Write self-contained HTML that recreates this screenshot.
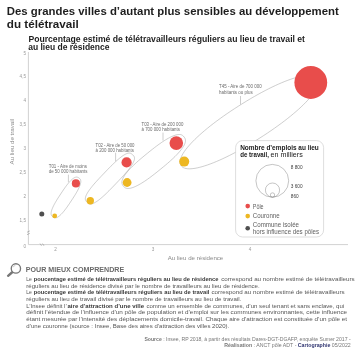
<!DOCTYPE html>
<html><head><meta charset="utf-8">
<style>
html,body{margin:0;padding:0;background:#fff;width:360px;height:354px;overflow:hidden}
svg{display:block;will-change:transform}
text{font-family:"Liberation Sans",sans-serif}
.t{font-weight:bold;fill:#1e1e1e;font-size:10px}
.st{font-weight:bold;fill:#1e1e1e;font-size:8.6px}
.tk{fill:#9a9a9a;font-size:4.6px}
.lb{fill:#6a6a6a;font-size:5.7px}
.ax{fill:#8a8a8a;font-size:5.2px}
.p{fill:#555;font-size:5.7px}
.p b{font-weight:bold}
.lg{fill:#333;font-size:5.8px}
.src{fill:#777;font-size:4.7px}
</style></head>
<body>
<svg width="360" height="354" viewBox="0 0 360 354" xmlns="http://www.w3.org/2000/svg">
<!-- Title -->
<text class="t" x="6.8" y="14.9" textLength="332" lengthAdjust="spacingAndGlyphs">Des grandes villes d’autant plus sensibles au développement</text>
<text class="t" x="6.8" y="28" textLength="72" lengthAdjust="spacingAndGlyphs">du télétravail</text>
<text class="st" x="28.4" y="41.9" textLength="276.6" lengthAdjust="spacingAndGlyphs">Pourcentage estimé de télétravailleurs réguliers au lieu de travail et</text>
<text class="st" x="28.2" y="49.7" textLength="81.3" lengthAdjust="spacingAndGlyphs">au lieu de résidence</text>

<!-- axes -->
<g stroke="#d2d2d2" stroke-width="1" fill="none">
<path d="M28.4 52V244.6H348"/>
</g>
<g stroke="#9a9a9a" stroke-width="0.7" fill="none" stroke-linecap="round">
<path d="M27.4 232.1 L29.4 231.1 M27.4 234.5 L29.4 233.5"/>
<path d="M40.3 243.9 L41.3 245.4 M42.7 243.9 L43.7 245.4"/>
</g>
<g class="tk" text-anchor="end">
<text x="26" y="54.7">5</text>
<text x="26" y="78.2">4,5</text>
<text x="26" y="101.7">4</text>
<text x="26" y="125.6">3,5</text>
<text x="26" y="149.6">3</text>
<text x="26" y="173.8">2,5</text>
<text x="26" y="197.7">2</text>
<text x="26" y="222.2">1,5</text>
<text x="26" y="248">0</text>
</g>
<g class="tk" text-anchor="middle">
<text x="55.5" y="251">2</text>
<text x="153" y="251">3</text>
<text x="250" y="251">4</text>
</g>
<text class="ax" x="195.5" y="259.6" text-anchor="middle" style="font-size:5.7px" textLength="55.6" lengthAdjust="spacingAndGlyphs">Au lieu de résidence</text>
<text class="ax" transform="translate(14.1 141.8) rotate(-90)" text-anchor="middle" style="font-size:5.5px" textLength="45.6" lengthAdjust="spacingAndGlyphs">Au lieu de travail</text>

<!-- ellipses -->
<g stroke="#9c9c9c" stroke-width="0.5" fill="none">
<path d="M78.83 177.91 79.46 178.36 79.83 178.68 80.12 179.01 80.34 179.35 80.52 179.71 80.65 180.10 80.74 180.52 80.79 180.96 80.80 181.43 80.78 181.94 80.72 182.47 80.62 183.03 80.49 183.63 80.32 184.25 80.11 184.91 79.87 185.59 79.60 186.31 79.28 187.07 78.93 187.85 78.55 188.67 78.12 189.53 77.66 190.43 77.15 191.37 76.59 192.35 75.99 193.39 75.32 194.50 74.59 195.70 73.76 197.01 72.77 198.54 71.21 200.92 69.64 203.29 68.62 204.80 67.74 206.08 66.93 207.23 66.18 208.27 65.46 209.24 64.77 210.14 64.11 210.98 63.47 211.76 62.84 212.49 62.24 213.17 61.66 213.80 61.09 214.38 60.54 214.92 60.00 215.41 59.48 215.86 58.97 216.26 58.48 216.61 58.00 216.93 57.53 217.19 57.08 217.41 56.64 217.59 56.21 217.72 55.80 217.80 55.39 217.83 54.98 217.81 54.58 217.74 54.17 217.60 53.72 217.39 53.07 216.99 52.44 216.54 52.07 216.22 51.78 215.89 51.56 215.55 51.38 215.19 51.25 214.80 51.16 214.38 51.11 213.94 51.10 213.47 51.12 212.96 51.18 212.43 51.28 211.87 51.41 211.27 51.58 210.65 51.79 209.99 52.03 209.31 52.30 208.59 52.62 207.83 52.97 207.05 53.35 206.23 53.78 205.37 54.24 204.47 54.75 203.53 55.31 202.55 55.91 201.51 56.58 200.40 57.31 199.20 58.14 197.89 59.13 196.36 60.69 193.98 62.26 191.61 63.28 190.10 64.16 188.82 64.97 187.67 65.72 186.63 66.44 185.66 67.13 184.76 67.79 183.92 68.43 183.14 69.06 182.41 69.66 181.73 70.24 181.10 70.81 180.52 71.36 179.98 71.90 179.49 72.42 179.04 72.93 178.64 73.42 178.29 73.90 177.97 74.37 177.71 74.82 177.49 75.26 177.31 75.69 177.18 76.10 177.10 76.51 177.07 76.92 177.09 77.32 177.16 77.73 177.30 78.18 177.51Z"/>
<path d="M132.65 154.78 133.42 155.56 133.83 156.07 134.11 156.55 134.31 157.04 134.44 157.53 134.50 158.05 134.50 158.59 134.44 159.16 134.32 159.75 134.15 160.38 133.92 161.04 133.64 161.73 133.30 162.45 132.91 163.21 132.47 164.00 131.97 164.82 131.41 165.69 130.80 166.59 130.13 167.53 129.40 168.51 128.60 169.54 127.74 170.62 126.81 171.75 125.80 172.94 124.70 174.20 123.49 175.56 122.15 177.03 120.62 178.68 118.77 180.64 115.60 183.97 112.41 187.29 110.53 189.22 108.95 190.82 107.53 192.23 106.23 193.49 105.02 194.65 103.87 195.71 102.78 196.69 101.74 197.60 100.75 198.44 99.80 199.21 98.89 199.92 98.02 200.57 97.18 201.17 96.38 201.70 95.60 202.18 94.87 202.60 94.16 202.97 93.48 203.28 92.83 203.54 92.21 203.74 91.62 203.88 91.06 203.96 90.52 203.99 90.00 203.95 89.50 203.84 89.01 203.67 88.52 203.40 87.99 203.02 87.17 202.28 86.40 201.50 85.99 200.99 85.71 200.51 85.51 200.02 85.38 199.53 85.32 199.01 85.32 198.47 85.38 197.90 85.50 197.31 85.67 196.68 85.90 196.02 86.18 195.33 86.52 194.61 86.91 193.85 87.35 193.06 87.85 192.24 88.41 191.37 89.02 190.47 89.69 189.53 90.42 188.55 91.22 187.52 92.08 186.44 93.01 185.31 94.02 184.12 95.12 182.86 96.33 181.50 97.67 180.03 99.20 178.38 101.05 176.42 104.22 173.09 107.41 169.77 109.29 167.84 110.87 166.24 112.29 164.83 113.59 163.57 114.80 162.41 115.95 161.35 117.04 160.37 118.08 159.46 119.07 158.62 120.02 157.85 120.93 157.14 121.80 156.49 122.64 155.89 123.44 155.36 124.22 154.88 124.95 154.46 125.66 154.09 126.34 153.78 126.99 153.52 127.61 153.32 128.20 153.18 128.76 153.10 129.30 153.07 129.82 153.11 130.32 153.22 130.81 153.39 131.30 153.66 131.83 154.04Z"/>
<path d="M183.97 136.84 184.62 137.70 184.99 138.36 185.25 139.00 185.41 139.65 185.48 140.32 185.46 141.02 185.37 141.75 185.20 142.51 184.95 143.30 184.62 144.12 184.22 144.98 183.74 145.87 183.19 146.79 182.57 147.75 181.87 148.74 181.10 149.76 180.25 150.82 179.34 151.91 178.34 153.03 177.28 154.19 176.13 155.38 174.91 156.61 173.61 157.88 172.21 159.20 170.72 160.56 169.12 161.99 167.39 163.49 165.49 165.11 163.30 166.92 160.18 169.48 157.04 172.02 154.82 173.78 152.84 175.31 151.02 176.70 149.29 177.98 147.65 179.15 146.08 180.25 144.57 181.27 143.12 182.21 141.72 183.09 140.37 183.90 139.06 184.64 137.81 185.31 136.60 185.92 135.44 186.47 134.33 186.95 133.27 187.36 132.25 187.71 131.28 188.00 130.36 188.22 129.49 188.37 128.66 188.45 127.88 188.47 127.15 188.41 126.46 188.28 125.82 188.08 125.22 187.79 124.64 187.40 124.07 186.90 123.37 186.10 122.72 185.24 122.35 184.58 122.09 183.94 121.93 183.29 121.86 182.62 121.88 181.92 121.97 181.19 122.14 180.43 122.39 179.64 122.72 178.82 123.12 177.96 123.60 177.07 124.15 176.15 124.77 175.19 125.47 174.20 126.24 173.18 127.09 172.12 128.00 171.03 129.00 169.91 130.06 168.75 131.21 167.56 132.43 166.33 133.73 165.06 135.13 163.74 136.62 162.38 138.22 160.95 139.95 159.45 141.85 157.83 144.04 156.02 147.16 153.46 150.30 150.92 152.52 149.16 154.50 147.63 156.32 146.24 158.05 144.96 159.69 143.79 161.26 142.69 162.77 141.67 164.22 140.73 165.62 139.85 166.97 139.04 168.28 138.30 169.53 137.63 170.74 137.02 171.90 136.47 173.01 135.99 174.07 135.58 175.09 135.23 176.06 134.94 176.98 134.72 177.85 134.57 178.68 134.49 179.46 134.47 180.19 134.53 180.88 134.66 181.52 134.86 182.12 135.15 182.70 135.54 183.27 136.04Z"/>
<path d="M317.20 78.76 317.74 79.81 318.06 80.89 318.18 82.06 318.11 83.32 317.86 84.66 317.42 86.10 316.80 87.62 316.00 89.23 315.02 90.91 313.86 92.68 312.53 94.52 311.03 96.44 309.37 98.41 307.54 100.46 305.55 102.56 303.41 104.71 301.12 106.91 298.68 109.16 296.10 111.44 293.39 113.76 290.55 116.11 287.59 118.49 284.50 120.89 281.30 123.30 277.98 125.73 274.56 128.18 271.02 130.63 267.36 133.11 263.55 135.62 259.40 138.29 255.23 140.91 251.34 143.30 247.55 145.57 243.82 147.73 240.16 149.80 236.55 151.77 233.01 153.65 229.53 155.43 226.12 157.11 222.79 158.69 219.54 160.16 216.37 161.53 213.31 162.79 210.34 163.93 207.48 164.96 204.74 165.87 202.12 166.66 199.62 167.33 197.25 167.88 195.02 168.30 192.93 168.60 190.98 168.78 189.19 168.82 187.55 168.74 186.06 168.53 184.73 168.19 183.57 167.72 182.56 167.11 181.72 166.37 181.00 165.44 180.46 164.39 180.14 163.31 180.02 162.14 180.09 160.88 180.34 159.54 180.78 158.10 181.40 156.58 182.20 154.97 183.18 153.29 184.34 151.52 185.67 149.68 187.17 147.76 188.83 145.79 190.66 143.74 192.65 141.64 194.79 139.49 197.08 137.29 199.52 135.04 202.10 132.76 204.81 130.44 207.65 128.09 210.61 125.71 213.70 123.31 216.90 120.90 220.22 118.47 223.64 116.02 227.18 113.57 230.84 111.09 234.65 108.58 238.80 105.91 242.97 103.29 246.86 100.90 250.65 98.63 254.38 96.47 258.04 94.40 261.65 92.43 265.19 90.55 268.67 88.77 272.08 87.09 275.41 85.51 278.66 84.04 281.83 82.67 284.89 81.41 287.86 80.27 290.72 79.24 293.46 78.33 296.08 77.54 298.58 76.87 300.95 76.32 303.18 75.90 305.27 75.60 307.22 75.42 309.01 75.38 310.65 75.46 312.14 75.67 313.47 76.01 314.63 76.48 315.64 77.09 316.48 77.83Z"/>
<path d="M68.4 174.7V182.2 M115.6 152.7V161.2 M163 132.6V140.5 M240.5 96V104.5"/>
</g>
<!-- labels -->
<g class="lb">
<text x="48.7" y="168.3" textLength="38.3" lengthAdjust="spacingAndGlyphs">T01 - Aire de moins</text>
<text x="48.7" y="173.3" textLength="38.8" lengthAdjust="spacingAndGlyphs">de 50 000 habitants</text>
<text x="95.5" y="146.6" textLength="39" lengthAdjust="spacingAndGlyphs">T02 - Aire de 50 000</text>
<text x="95.5" y="151.7" textLength="38.4" lengthAdjust="spacingAndGlyphs">à 200 000 habitants</text>
<text x="141.5" y="126" textLength="41.8" lengthAdjust="spacingAndGlyphs">T03 - Aire de 200 000</text>
<text x="141.5" y="131.2" textLength="38.4" lengthAdjust="spacingAndGlyphs">à 700 000 habitants</text>
<text x="219" y="88" textLength="42.7" lengthAdjust="spacingAndGlyphs">T45 - Aire de 700 000</text>
<text x="219" y="94.3" textLength="33.7" lengthAdjust="spacingAndGlyphs">habitants ou plus</text>
</g>

<!-- dots -->
<g fill="#e84d4b">
<circle cx="75.9" cy="183.4" r="4.1"/>
<circle cx="126.6" cy="162.4" r="5.1"/>
<circle cx="176.3" cy="143.1" r="6.8"/>
<circle cx="310.8" cy="82.5" r="16.4"/>
</g>
<g fill="#edb722">
<circle cx="54.7" cy="215.9" r="2.4"/>
<circle cx="90.3" cy="200.7" r="3.7"/>
<circle cx="127.1" cy="182.5" r="4.4"/>
<circle cx="184.2" cy="161.6" r="5"/>
</g>
<circle cx="41.8" cy="214.1" r="2.5" fill="#4f4f4f"/>

<!-- legend -->
<rect x="235.6" y="140.6" width="88" height="96.4" rx="7" ry="7" fill="#fff" stroke="#c8c8c8" stroke-width="0.6"/>
<text class="lg" x="240.2" y="150.4" font-weight="bold" style="fill:#1a1a1a;font-size:6.5px" textLength="78.6" lengthAdjust="spacingAndGlyphs">Nombre d’emplois au lieu</text>
<text class="lg" x="240.2" y="157.2" font-weight="bold" style="fill:#1a1a1a;font-size:6.5px" textLength="28.7" lengthAdjust="spacingAndGlyphs">de travail,</text>
<text class="lg" x="270.6" y="157.2" style="fill:#222;font-size:6.4px" textLength="32.2" lengthAdjust="spacingAndGlyphs">en milliers</text>
<g stroke="#8a8a8a" stroke-width="0.5" fill="none">
<circle cx="272.3" cy="180.8" r="16.4"/>
<circle cx="272.5" cy="190.1" r="7.1"/>
<circle cx="272.5" cy="195" r="2.2"/>
</g>
<g class="tk" style="font-size:4.7px;fill:#404040">
<text x="290.8" y="168.7">8 800</text>
<text x="290.8" y="187.9">3 600</text>
<text x="290.8" y="197.6">860</text>
</g>
<circle cx="247.7" cy="206.1" r="2.3" fill="#e84d4b"/>
<circle cx="247.7" cy="216.1" r="2.3" fill="#edb722"/>
<circle cx="247.7" cy="228.2" r="2.3" fill="#4f4f4f"/>
<g class="lg" style="fill:#606060;font-size:6.3px">
<text x="252.8" y="208.9" textLength="10.8" lengthAdjust="spacingAndGlyphs">Pôle</text>
<text x="252.8" y="218.4" textLength="26.9" lengthAdjust="spacingAndGlyphs">Couronne</text>
<text x="252.8" y="227.3" textLength="46.2" lengthAdjust="spacingAndGlyphs">Commune isolée</text>
<text x="252.8" y="234.2" textLength="66.3" lengthAdjust="spacingAndGlyphs">hors influence des pôles</text>
</g>

<!-- magnifier -->
<g stroke="#777" fill="none" stroke-linecap="round">
<circle cx="15.9" cy="268.4" r="4.65" stroke-width="1.35"/>
<path d="M11.9 272.5 L8.1 275.8" stroke-width="2.4"/>
<path d="M13.3 266.9 A2.9 2.9 0 0 1 15.1 265.3" stroke="#aaa" stroke-width="0.6"/>
</g>
<text x="25.8" y="271.9" fill="#6a6a6a" font-weight="bold" style="font-size:6.6px" textLength="98.4" lengthAdjust="spacingAndGlyphs">POUR MIEUX COMPRENDRE</text>

<g class="p">
<text x="26.2" y="280.8" textLength="5.6" lengthAdjust="spacingAndGlyphs">Le</text>
<text x="33.7" y="280.8" font-weight="bold" fill="#3a3a3a" textLength="184.8" lengthAdjust="spacingAndGlyphs">poucentage estimé de télétravailleurs réguliers au lieu de résidence</text>
<text x="221.2" y="280.8" textLength="133.5" lengthAdjust="spacingAndGlyphs">correspond au nombre estimé de télétravailleurs</text>
<text x="26.3" y="287.5" textLength="233.4" lengthAdjust="spacingAndGlyphs">réguliers au lieu de résidence divisé par le nombre de travailleurs au lieu de résidence.</text>
<text x="26.2" y="294.2" textLength="5.6" lengthAdjust="spacingAndGlyphs">Le</text>
<text x="33.7" y="294.2" font-weight="bold" fill="#3a3a3a" textLength="175.7" lengthAdjust="spacingAndGlyphs">poucentage estimé de télétravailleurs réguliers au lieu de travail</text>
<text x="211.5" y="294.2" textLength="133.2" lengthAdjust="spacingAndGlyphs">correspond au nombre estimé de télétravailleurs</text>
<text x="26.3" y="300.9" textLength="215" lengthAdjust="spacingAndGlyphs">réguliers au lieu de travail divisé par le nombre de travailleurs au lieu de travail.</text>
<text x="26.3" y="307.6" textLength="40.4" lengthAdjust="spacingAndGlyphs">L’Insee définit l’</text>
<text x="67.5" y="307.6" font-weight="bold" fill="#3a3a3a" textLength="76.5" lengthAdjust="spacingAndGlyphs">aire d’attraction d’une ville</text>
<text x="146.4" y="307.6" textLength="197.8" lengthAdjust="spacingAndGlyphs">comme un ensemble de communes, d’un seul tenant et sans enclave, qui</text>
<text x="26.3" y="314.3" textLength="320.8" lengthAdjust="spacingAndGlyphs">définit l’étendue de l’influence d’un pôle de population et d’emploi sur les communes environnantes, cette influence</text>
<text x="26.3" y="321" textLength="320.8" lengthAdjust="spacingAndGlyphs">étant mesurée par l’intensité des déplacements domicile-travail. Chaque aire d’attraction est constituée d’un pôle et</text>
<text x="26.3" y="327.7" textLength="202.9" lengthAdjust="spacingAndGlyphs">d’une couronne (source : Insee, Base des aires d’attraction des villes 2020).</text>
</g>
<g class="src">
<text x="144.4" y="340.8" textLength="206.3" lengthAdjust="spacingAndGlyphs"><tspan font-weight="bold">Source</tspan> : Insee, RP 2018, à partir des résultats Dares-DGT-DGAFP, enquête Sumer 2017 -</text>
<text x="224.3" y="347.1" textLength="126.4" lengthAdjust="spacingAndGlyphs"><tspan font-weight="bold">Réalisation</tspan> : ANCT pôle ADT - <tspan font-weight="bold" fill="#2f3470">Cartographie</tspan> 05/2022</text>
</g>
</svg>
</body></html>
